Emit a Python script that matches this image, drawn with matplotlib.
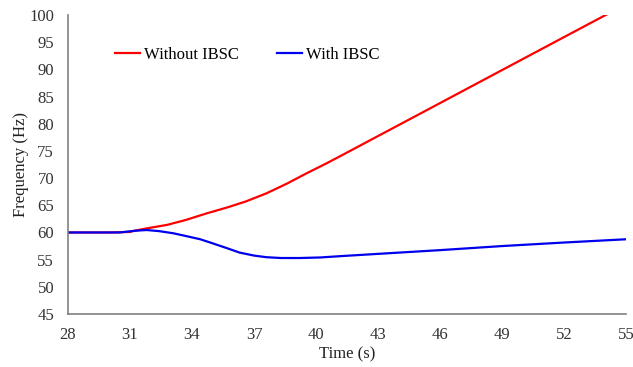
import matplotlib
matplotlib.use('Agg')
import matplotlib.pyplot as plt

plt.rcParams['font.family'] = ['Liberation Serif', 'DejaVu Serif']

# time (s) and frequency (Hz)
t_without = [28, 29, 30, 31, 31.2, 31.8, 32.8, 33.7, 34.7, 35.7, 36.6, 37.6, 38.6, 39.5, 40.5, 41.2, 46, 50, 55]
f_without = [60.0, 60.0, 60.0, 60.1, 60.3, 60.75, 61.4, 62.3, 63.5, 64.6, 65.7, 67.2, 69.0, 70.8, 72.7, 74.1, 83.8, 91.9, 102.0]

t_with = [28, 29, 30, 30.5, 31.2, 31.8, 32.4, 33.1, 33.7, 34.4, 35.0, 35.7, 36.3, 37.0, 37.6, 38.3, 39.2, 40.2, 41.2, 46, 49, 52, 55]
f_with = [60.0, 60.0, 60.0, 60.0, 60.3, 60.45, 60.25, 59.85, 59.35, 58.75, 58.0, 57.1, 56.3, 55.75, 55.45, 55.3, 55.3, 55.4, 55.65, 56.75, 57.5, 58.15, 58.75]

xticks = [28, 31, 34, 37, 40, 43, 46, 49, 52, 55]
yticks = list(range(45, 101, 5))

fig = plt.figure(figsize=(6.33, 3.67), dpi=100)
ax = fig.add_axes([0.1074, 0.1444, 0.8816, 0.8146])

ax.plot(t_without, f_without, color='#ff0000', lw=1.6, label='Without IBSC')
ax.plot(t_with, f_with, color='#0000ee', lw=1.6, label='With IBSC')

ax.set_xlim(28, 55)
ax.set_ylim(45, 100)
ax.set_xticks(xticks)
ax.set_yticks(yticks)
ax.tick_params(length=0, labelsize=12, colors='#333333')
ax.tick_params(axis='x', pad=9)
ax.tick_params(axis='y', pad=10)

for s in ['top', 'right']:
    ax.spines[s].set_visible(False)
for s in ['left', 'bottom']:
    ax.spines[s].set_color('#808080')
    ax.spines[s].set_linewidth(1.2)

ax.set_xlabel('Time (s)', fontsize=12, color='#222222', labelpad=3)
ax.set_ylabel('Frequency (Hz)', fontsize=12, color='#222222', labelpad=0)

ax.legend(loc='center left', bbox_to_anchor=(0.084, 0.866), ncol=2, frameon=False,
          fontsize=12, handlelength=1.5, handletextpad=0.25, columnspacing=2.3,
          borderpad=0, borderaxespad=0)

fig.savefig('out.png', dpi=100)
